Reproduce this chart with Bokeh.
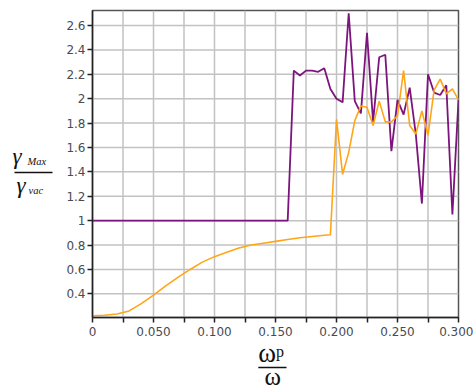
from bokeh.plotting import figure
from bokeh.layouts import row, column
from bokeh.models import (FixedTicker, CustomJSTickFormatter, Label, Range1d,
                          Span, BoxAnnotation)
from bokeh.embed import file_html
from bokeh.resources import INLINE

# ---- data ----
x_purple = [0.0, 0.16, 0.165, 0.17, 0.175, 0.18, 0.185, 0.19, 0.195, 0.2,
            0.205, 0.21, 0.215, 0.22, 0.225, 0.23, 0.235, 0.24, 0.245, 0.25,
            0.255, 0.26, 0.265, 0.27, 0.275, 0.28, 0.285, 0.29, 0.295, 0.3]
y_purple = [1.0, 1.0, 2.23, 2.19, 2.23, 2.23, 2.22, 2.25, 2.08, 2.0,
            1.97, 2.7, 1.98, 1.88, 2.54, 1.81, 2.34, 2.36, 1.57, 1.99,
            1.87, 2.09, 1.71, 1.14, 2.2, 2.05, 2.03, 2.11, 1.05, 1.99]

x_orange = [0.0, 0.01, 0.02, 0.03, 0.04, 0.05, 0.06, 0.07, 0.08, 0.09,
            0.1, 0.11, 0.12, 0.13, 0.14, 0.15, 0.16, 0.17, 0.18, 0.19,
            0.195, 0.2, 0.205, 0.21, 0.215, 0.22, 0.225, 0.23, 0.235, 0.24,
            0.245, 0.25, 0.255, 0.26, 0.265, 0.27, 0.275, 0.28, 0.285, 0.29,
            0.295, 0.3]
y_orange = [0.22, 0.225, 0.235, 0.26, 0.32, 0.39, 0.465, 0.535, 0.6, 0.66,
            0.705, 0.74, 0.775, 0.8, 0.815, 0.83, 0.845, 0.86, 0.87, 0.88,
            0.885, 1.83, 1.38, 1.56, 1.82, 1.94, 1.93, 1.78, 1.98, 1.81,
            1.81, 1.86, 2.23, 1.78, 1.71, 1.9, 1.7, 2.07, 2.16, 2.04,
            2.08, 1.99]

x_major_ticks = [0.0, 0.05, 0.1, 0.15, 0.2, 0.25, 0.3]
x_minor_ticks = [0.025, 0.075, 0.125, 0.175, 0.225, 0.275]
y_ticks = [0.4, 0.6, 0.8, 1.0, 1.2, 1.4, 1.6, 1.8, 2.0, 2.2, 2.4, 2.6]

y_title_num, y_title_num_sub = "γ", "Max"
y_title_den, y_title_den_sub = "γ", "vac"
x_title_num, x_title_num_sub = "ω", "p"
x_title_den = "ω"

PURPLE = "#7d147d"
ORANGE = "#ffa516"
GRID = "#c2c2c2"
INK = "#111111"
SERIF = "Liberation Serif"

# ---------------- main plot ----------------
p = figure(width=415, height=344, output_backend="svg", toolbar_location=None,
           x_range=Range1d(0, 0.3), y_range=Range1d(0.206, 2.723))
p.min_border = 0
p.min_border_left = 34
p.min_border_right = 15
p.min_border_top = 10
p.min_border_bottom = 27
p.outline_line_color = "#555555"
p.outline_line_width = 1.5
p.xgrid.visible = False
p.ygrid.visible = False

for xv in x_major_ticks + x_minor_ticks:
    if 0 < xv < 0.3:
        p.add_layout(Span(location=xv, dimension="height", line_color=GRID,
                          line_width=1.5, level="underlay"))
for yv in y_ticks:
    p.add_layout(Span(location=yv, dimension="width", line_color=GRID,
                      line_width=1.5, level="underlay"))

p.line(x_purple, y_purple, line_color=PURPLE, line_width=1.8)
p.line(x_orange, y_orange, line_color=ORANGE, line_width=1.6)

p.xaxis.ticker = FixedTicker(ticks=x_major_ticks, minor_ticks=x_minor_ticks)
p.yaxis.ticker = FixedTicker(ticks=y_ticks, minor_ticks=[])
p.xaxis.formatter = CustomJSTickFormatter(
    code="return tick == 0 ? '0' : tick.toFixed(3);")
p.yaxis.formatter = CustomJSTickFormatter(
    code="return String(Math.round(tick * 10) / 10);")

for ax in (p.xaxis[0], p.yaxis[0]):
    ax.axis_line_color = "#222222"
    ax.axis_line_width = 1.5
    ax.major_tick_line_color = "#222222"
    ax.major_tick_line_width = 1.5
    ax.major_tick_in = 0
    ax.major_tick_out = 5
    ax.major_label_text_font = "DejaVu Sans"
    ax.major_label_text_font_size = "12px"
    ax.major_label_text_color = "#4a4a52"

p.xaxis.minor_tick_line_color = "#222222"
p.xaxis.minor_tick_line_width = 1.5
p.xaxis.minor_tick_in = 0
p.xaxis.minor_tick_out = 5
p.xaxis.major_label_standoff = 4
p.yaxis.major_label_standoff = 2


def blank_fig(w, h, x0, y0, **kw):
    f = figure(width=w, height=h, output_backend="svg", toolbar_location=None,
               x_range=Range1d(x0, x0 + w), y_range=Range1d(y0 + h, y0),
               x_axis_type=None, y_axis_type=None, **kw)
    f.min_border = 0
    f.outline_line_color = None
    f.grid.visible = False
    f.background_fill_color = None
    f.border_fill_color = None
    return f


def add_text(f, x, y, text, size, style="normal"):
    f.add_layout(Label(x=x, y=y, text=text, text_font=SERIF,
                       text_font_size=size, text_font_style=style,
                       text_color=INK, text_align="left",
                       text_baseline="alphabetic"))


def add_bar(f, x0, x1, y):
    f.add_layout(BoxAnnotation(left=x0, right=x1, top=y - 0.7, bottom=y + 0.7,
                               fill_color=INK, fill_alpha=1, line_alpha=0))


# ---------------- y-axis title (left strip) ----------------
left = blank_fig(58, 391, 0, 0)
add_text(left, 12, 156, y_title_num, "23px", "italic")
add_text(left, 27, 161, y_title_num_sub, "10.5px", "italic")
add_bar(left, 14, 52, 172)
add_text(left, 16, 185, y_title_den, "23px", "italic")
add_text(left, 28, 190, y_title_den_sub, "10.5px", "italic")

# ---------------- x-axis title (bottom strip, transparent, overlapping) ----
OVER = 20
bottom = blank_fig(415, 47 + OVER, 58, 344 - OVER, margin=(-OVER, 0, 0, 0))
add_text(bottom, 246, 352, x_title_num, "27px")
add_text(bottom, 266, 351, x_title_num_sub, "16px")
add_bar(bottom, 246, 278, 367)
add_text(bottom, 253, 376, x_title_den, "25px")

layout = row(left, column(p, bottom))

open("out.html", "w").write(file_html(layout, INLINE))
